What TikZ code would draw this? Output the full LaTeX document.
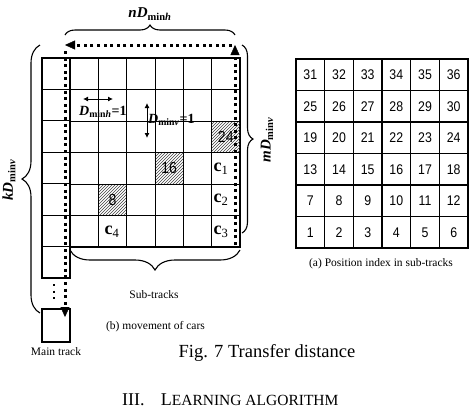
\documentclass[tikz,border=0pt]{standalone}
\usepackage{fontspec}
\setmainfont{Liberation Serif}
\newfontfamily\numfont[FakeStretch=0.88]{Liberation Sans}
\usepackage{tikz}
\usetikzlibrary{arrows.meta, positioning, patterns, decorations.pathreplacing, calc}

\newcommand{\Dmin}[1]{\textbf{\textit{D}}\textsubscript{\textbf{min\textit{#1}}}}

\begin{document}
\begin{tikzpicture}[
    x=1pt, y=-1pt,
    cell/.style={draw, line width=0.9pt, minimum width=28.33pt, minimum height=31.5pt, inner sep=0pt, outer sep=0pt},
    maincell/.style={cell, minimum width=28pt, minimum height=31.43pt},
    idx/.style={cell, line width=1.1pt, minimum width=28.67pt, font=\numfont\fontsize{14}{14}\selectfont},
    hatched/.style={cell, pattern=north east lines, pattern color=black!75, font=\numfont\fontsize{16}{16}\selectfont},
    carlbl/.style={inner sep=0pt, font=\fontsize{18}{18}\selectfont},
    mover/.style={line width=3pt, dash pattern=on 3pt off 3.6pt},
    movetip/.style={-{Triangle[length=10pt, width=9pt, line width=0.4pt]}},
    dimarrow/.style={{Latex[length=5pt, width=5pt]}-{Latex[length=5pt, width=5pt]}, line width=0.9pt},
    brc/.style={decorate, decoration={brace, amplitude=#1}, line width=1.1pt},
    dimlbl/.style={inner sep=0pt, font=\fontsize{15}{15}\selectfont},
    unitlbl/.style={inner sep=0pt, font=\fontsize{14}{14}\selectfont},
    caption/.style={inner sep=0pt, font=\fontsize{11.5}{13}\selectfont}
]
\useasboundingbox (0,0) rectangle (471,408);

% (b) sub-tracks and main track column
\foreach \c in {1,...,6}
  \foreach \r in {1,...,6}
    \node[cell] (s-\c-\r) at ({70+28.33*(\c-0.5)}, {58+31.5*(\r-0.5)}) {};
\foreach \r in {1,...,7}
  \node[maincell] (m-\r) at (56, {58+31.43*(\r-0.5)}) {};
\draw[line width=1.5pt] (s-1-1.north west) rectangle (s-6-6.south east);
\draw[line width=1.5pt] (m-1.north west) rectangle (m-7.south east);
\node[maincell, minimum height=33pt, line width=1.3pt] (main) at (56,325.5) {};

% hatched cars and car labels
\node[hatched] (h24) at (s-6-3) {24};
\node[hatched] (h16) at (s-4-4) {16};
\node[hatched] (h8) at (s-2-5) {8};
\node[carlbl] (c1) at (221,169) {\textbf{c}\textsubscript{1}};
\node[carlbl] (c2) at (221,200) {\textbf{c}\textsubscript{2}};
\node[carlbl] (c3) at (221,232) {\textbf{c}\textsubscript{3}};
\node[carlbl] (c4) at (112,232) {\textbf{c}\textsubscript{4}};

% unit distances
\coordinate (dhA) at (83,99);
\coordinate (dhB) at (113,99);
\coordinate (dvA) at (147,103);
\coordinate (dvB) at (147,138);
\draw[dimarrow] (dhA) -- (dhB);
\draw[dimarrow] (dvA) -- (dvB);
\node[unitlbl, anchor=base west] (dh) at (79,115) {\Dmin{h}\textbf{=1}};
\node[unitlbl, anchor=base west] (dv) at (148,123) {\Dmin{v}\textbf{=1}};

% movement path
\coordinate (startR) at (235,245);
\coordinate (turnR) at (235,45);
\coordinate (turnL) at (65,45);
\coordinate (endM) at (65,317);
\draw[mover, movetip] (startR) -- (turnR);
\draw[mover, movetip] ($(turnR)+(-3,0)$) -- (turnL);
\draw[mover, movetip] ($(turnL)+(0,6)$) -- (endM);
\coordinate (dotA) at (54,284);
\coordinate (dotB) at (54,299);
\draw[line width=2pt, dash pattern=on 2pt off 4.5pt] (dotA) -- (dotB);

% braces
\coordinate (nL) at (65,35);
\coordinate (nR) at (235,35);
\coordinate (kT) at (40,45);
\coordinate (kB) at (40,313);
\coordinate (mT) at (242,45);
\coordinate (mB) at (242,233);
\coordinate (sR) at (240,250);
\coordinate (sL) at (70,250);
\draw[brc=10pt] (nL) -- (nR);
\draw[brc=18pt] (kB) -- (kT);
\draw[brc=11pt] (mT) -- (mB);
\draw[brc=20pt] (sR) -- (sL);
\node[dimlbl] (nlbl) at (150,14) {\textbf{\textit{nD}}\textsubscript{\textbf{min\textit{h}}}};
\node[dimlbl, rotate=90] (klbl) at (9,180) {\textbf{\textit{kD}}\textsubscript{\textbf{min\textit{v}}}};
\node[dimlbl, rotate=90] (mlbl) at (267,140) {\textbf{\textit{mD}}\textsubscript{\textbf{min\textit{v}}}};

% captions of (b)
\node[caption] (sub) at (154,295) {Sub-tracks};
\node[caption] (capb) at (155.5,327) {(b) movement of cars};
\node[caption, below=5pt of main] (mainlbl) {Main track};

% (a) position index
\foreach \c in {1,...,6}
  \foreach \r in {1,...,6} {
    \pgfmathtruncatemacro\n{(6-\r)*6+\c}
    \node[idx] (p-\c-\r) at ({296+28.67*(\c-0.5)}, {59+31.5*(\r-0.5)}) {\n};
  }
\draw[line width=1.6pt] (p-1-1.north west) rectangle (p-6-6.south east);
\node[caption] (capa) at (381,264) {(a) Position index in sub-tracks};

% figure caption and section heading
\node[inner sep=0pt, anchor=base, font=\fontsize{18.5}{20}\selectfont] (fig) at (267,357) {Fig. 7 Transfer distance};
\node[inner sep=0pt, anchor=base west, font=\fontsize{18}{20}\selectfont] (sec) at (122,405.5) {III.\hspace{0.9em}L{\fontsize{15.5}{16}\selectfont EARNING ALGORITHM}};
\end{tikzpicture}
\end{document}
